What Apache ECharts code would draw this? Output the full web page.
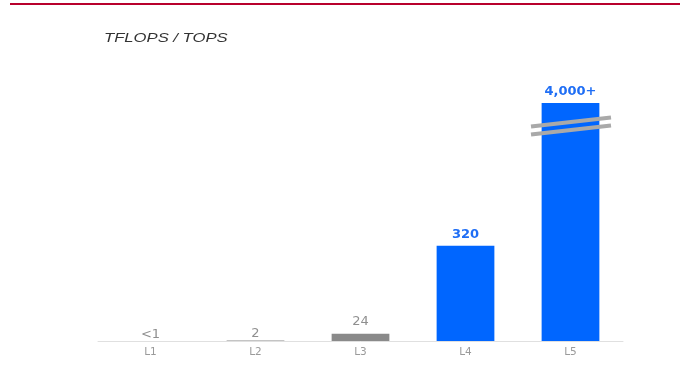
<!doctype html>
<html>
<head>
<meta charset="utf-8">
<title>TFLOPS / TOPS</title>
<script src="https://cdn.jsdelivr.net/npm/echarts@6/dist/echarts.min.js"></script>
<style>
  html, body { margin: 0; padding: 0; background: #fff; }
  #chart { width: 685px; height: 371px; }
</style>
</head>
<body>
<div id="chart"></div>
<script type="text/javascript">
// chart data
var levels = ['L1', 'L2', 'L3', 'L4', 'L5'];
var values = [0.5, 2, 24, 320, 4000];
var valueLabels = ['<1', '2', '24', '320', '4,000+'];
var barColors = ['rgba(0,0,0,0)', '#8a8a8a', '#8a8a8a', '#0066ff', '#0066ff'];
var labelColors = ['#8f8f8f', '#8f8f8f', '#8f8f8f', '#1f6ef5', '#1f6ef5'];
var labelGaps = [0, 0, 6, 5, 5];
// L5 is drawn as a broken bar, capped at this height
var displayCap = 800;

var barData = values.map(function (v, i) {
    var bold = i >= 3;
    return {
        value: Math.min(v, displayCap),
        itemStyle: { color: barColors[i] },
        label: {
            formatter: valueLabels[i],
            color: labelColors[i],
            fontWeight: bold ? 'bold' : 'normal',
            fontSize: 13,
            distance: labelGaps[i]
        }
    };
});

var myChart = echarts.init(document.getElementById('chart'));

var option = {
    animation: false,
    grid: { left: 98, right: 62, top: 103, bottom: 30 },
    xAxis: {
        type: 'category',
        data: levels,
        axisLine: { lineStyle: { color: '#e0e0e0', width: 1 } },
        axisTick: { show: false },
        axisLabel: { color: '#9a9a9a', fontSize: 10.5, margin: 6, fontFamily: 'DejaVu Sans' }
    },
    yAxis: {
        type: 'value',
        min: 0,
        max: displayCap,
        show: false,
        splitLine: { show: false }
    },
    series: [{
        type: 'bar',
        barWidth: '55%',
        data: barData,
        label: { show: true, position: 'top', fontFamily: 'DejaVu Sans' }
    }],
    graphic: [
        {
            type: 'rect',
            shape: { x: 10, y: 3, width: 670, height: 2 },
            style: { fill: '#b8002c' }
        },
        {
            type: 'text',
            x: 104,
            y: 32,
            scaleX: 1.28,
            style: {
                text: 'TFLOPS / TOPS',
                fill: '#333',
                font: 'italic 13px "Liberation Sans"'
            }
        }
    ]
};
myChart.setOption(option);

// break marks across the L5 bar
var p = myChart.convertToPixel({ seriesIndex: 0 }, ['L5', displayCap]);
var cx = p[0] + 0.5, cy = p[1] + 23;
var marks = [-4, 4].map(function (d) {
    return {
        type: 'line',
        z: 100,
        shape: { x1: cx - 40, y1: cy + d + 4.5, x2: cx + 40, y2: cy + d - 4.5 },
        style: { stroke: '#a9a9a9', lineWidth: 4 }
    };
});
myChart.setOption({ graphic: option.graphic.concat(marks) });
</script>
</body>
</html>
